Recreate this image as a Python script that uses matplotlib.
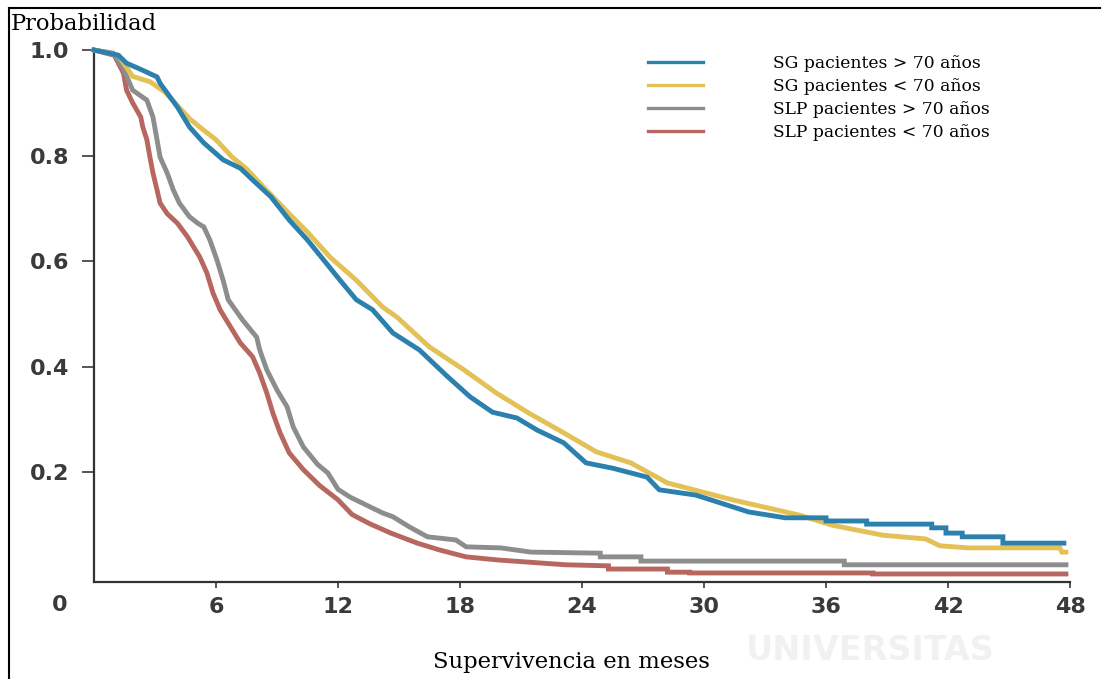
import matplotlib
matplotlib.use("Agg")
import matplotlib.pyplot as plt
from matplotlib.lines import Line2D

# ---------------- data ----------------
sg_old_x = [0, 1.2, 1.6, 2.2, 3.1, 3.25, 4.1, 4.7, 5.4, 6.35, 7.2, 7.8, 8.7, 9.6, 10.5,
            11.3, 12.1, 12.9, 13.7, 14.7, 16.0, 17.4, 18.5, 19.6, 20.8, 21.8, 23.1, 24.2,
            25.5, 27.2, 27.8, 29.6, 32.2, 34.0, 36.0, 36.0, 38.0, 38.0, 41.2, 41.2, 41.9,
            41.9, 42.7, 42.7, 44.7, 44.7, 47.7]
sg_old_y = [1.0, 0.99, 0.975, 0.965, 0.949, 0.937, 0.892, 0.854, 0.824, 0.792, 0.776, 0.754,
            0.722, 0.678, 0.640, 0.602, 0.564, 0.527, 0.508, 0.464, 0.432, 0.381, 0.343, 0.314,
            0.303, 0.280, 0.256, 0.218, 0.208, 0.191, 0.167, 0.157, 0.125, 0.114, 0.114, 0.108,
            0.108, 0.102, 0.102, 0.095, 0.095, 0.085, 0.085, 0.078, 0.078, 0.066, 0.066]

sg_young_x = [0, 1.2, 1.9, 2.75, 3.5, 4.1, 4.7, 5.2, 6.0, 6.8, 7.5, 8.3, 9.6, 10.5, 11.6,
              12.9, 14.2, 14.9, 16.5, 18.2, 19.8, 21.4, 23.1, 24.7, 26.4, 28.2, 31.4, 34.7,
              36.3, 38.8, 40.9, 41.6, 43.0, 47.5, 47.6, 47.8]
sg_young_y = [1.0, 0.99, 0.95, 0.94, 0.92, 0.895, 0.87, 0.854, 0.83, 0.797, 0.775, 0.742,
              0.690, 0.655, 0.608, 0.564, 0.513, 0.494, 0.4375, 0.394, 0.350, 0.312, 0.275,
              0.239, 0.218, 0.180, 0.148, 0.119, 0.100, 0.081, 0.074, 0.061, 0.057, 0.057,
              0.049, 0.049]

slp_old_x = [0, 0.95, 1.4, 1.9, 2.6, 2.9, 3.1, 3.25, 3.6, 3.9, 4.2, 4.7, 5.1, 5.4, 5.7, 6.05,
             6.35, 6.6, 7.3, 8.0, 8.15, 8.5, 9.0, 9.5, 9.8, 10.3, 11.0, 11.5, 12.0, 12.6, 13.4,
             14.2, 14.7, 15.5, 16.4, 17.8, 18.3, 20.0, 21.5, 24.9, 24.9, 26.9, 26.9, 36.9,
             36.9, 47.8]
slp_old_y = [1.0, 0.994, 0.968, 0.924, 0.905, 0.873, 0.830, 0.797, 0.767, 0.735, 0.710, 0.684,
             0.672, 0.665, 0.640, 0.602, 0.564, 0.527, 0.489, 0.456, 0.432, 0.394, 0.356, 0.324,
             0.286, 0.248, 0.215, 0.199, 0.168, 0.153, 0.138, 0.123, 0.116, 0.097, 0.078,
             0.072, 0.059, 0.057, 0.049, 0.047, 0.040, 0.040, 0.032, 0.032, 0.025, 0.025]

slp_young_x = [0, 1.0, 1.45, 1.6, 1.9, 2.3, 2.4, 2.6, 2.75, 2.9, 3.1, 3.25, 3.6, 4.1, 4.6,
               4.9, 5.2, 5.55, 5.85, 6.2, 6.5, 7.2, 7.8, 8.15, 8.5, 8.8, 9.15, 9.6, 10.3,
               11.1, 12.0, 12.7, 13.6, 14.6, 15.9, 17.0, 18.3, 19.9, 23.2, 25.3, 25.3, 28.2,
               28.2, 29.3, 29.3, 38.3, 38.3, 47.8]
slp_young_y = [1.0, 0.99, 0.956, 0.924, 0.900, 0.873, 0.854, 0.830, 0.797, 0.767, 0.735, 0.710,
               0.690, 0.672, 0.646, 0.627, 0.608, 0.578, 0.540, 0.508, 0.489, 0.445, 0.419,
               0.388, 0.350, 0.312, 0.275, 0.237, 0.205, 0.175, 0.148, 0.120, 0.102, 0.085,
               0.066, 0.053, 0.040, 0.034, 0.025, 0.023, 0.017, 0.017, 0.011, 0.011, 0.0095,
               0.0095, 0.0076, 0.0076]

labels = ["SG pacientes > 70 años", "SG pacientes < 70 años",
          "SLP pacientes > 70 años", "SLP pacientes < 70 años"]
x_ticks = [6, 12, 18, 24, 30, 36, 42, 48]
y_ticks = [0.2, 0.4, 0.6, 0.8, 1.0]
y_ticklabels = ["0.2", "0.4", "0.6", "0.8", "1.0"]

colors = ["#2b80ad", "#e3c157", "#8d8d8d", "#b7675f"]

# ---------------- figure ----------------
W, H = 1105, 679
fig = plt.figure(figsize=(W / 100, H / 100), dpi=100)
ax = fig.add_axes([94 / W, 1 - 582 / H, (1070 - 94) / W, (582 - 50) / H])

series = [(sg_old_x, sg_old_y), (sg_young_x, sg_young_y),
          (slp_old_x, slp_old_y), (slp_young_x, slp_young_y)]
order = [3, 2, 1, 0]
for i in order:
    xs, ys = series[i]
    ax.plot(xs, ys, color=colors[i], lw=3.5, solid_joinstyle="miter",
            clip_on=False, zorder=3 + (3 - i))

ax.set_xlim(0, 48)
ax.set_ylim(-0.0076, 1.0)
for s in ["top", "right"]:
    ax.spines[s].set_visible(False)
for s in ["left", "bottom"]:
    ax.spines[s].set_color("#333333")
    ax.spines[s].set_linewidth(1.6)

tick_font = dict(family="DejaVu Sans", weight="bold", size=16)
ax.set_xticks(x_ticks)
ax.set_xticklabels([str(t) for t in x_ticks], fontdict=tick_font, color="#3a3a3a")
ax.set_yticks(y_ticks)
ax.set_yticklabels(y_ticklabels, fontdict=tick_font, color="#3a3a3a")
ax.tick_params(axis="x", direction="out", length=4, width=1.4, color="#555555", pad=7)
ax.tick_params(axis="y", direction="out", length=9, width=1.4, color="#555555", pad=9)

# origin "0" label
ax.annotate("0", xy=(0, 0), xycoords="axes fraction", xytext=(-34, -23),
            textcoords="offset pixels", ha="center", va="center",
            fontfamily="DejaVu Sans", fontweight="bold", fontsize=16, color="#3a3a3a",
            annotation_clip=False)

# legend
handles = [Line2D([], [], color=c, lw=2.4) for c in colors]
leg = ax.legend(handles, labels, loc="upper left",
                bbox_to_anchor=(648 / W, 1 - 55 / H), bbox_transform=fig.transFigure,
                frameon=False, borderpad=0, borderaxespad=0,
                handlelength=3.2, handletextpad=4.1, labelspacing=0.36,
                prop=dict(family="DejaVu Serif", size=12.3))

# texts
fig.text(11 / W, 1 - 30 / H, "Probabilidad", family="DejaVu Serif", fontsize=16.3,
         ha="left", va="baseline", color="black")
fig.text(571 / W, 1 - 662 / H, "Supervivencia en meses", family="DejaVu Serif",
         fontsize=16.3, ha="center", va="center", color="black")

# faint watermark
fig.text(870 / W, 1 - 650 / H, "UNIVERSITAS", family="DejaVu Sans",
         fontweight="bold", fontsize=24, ha="center", va="center", color="#f1f1f1", zorder=0)

# page border (top and left)
fig.add_artist(Line2D([9 / W, 9 / W], [0, 1 - 8 / H], transform=fig.transFigure,
                      color="black", lw=1.5))
fig.add_artist(Line2D([9 / W, 1100 / W], [1 - 8 / H, 1 - 8 / H], transform=fig.transFigure,
                      color="black", lw=1.5))

fig.savefig("out.png", dpi=100)
